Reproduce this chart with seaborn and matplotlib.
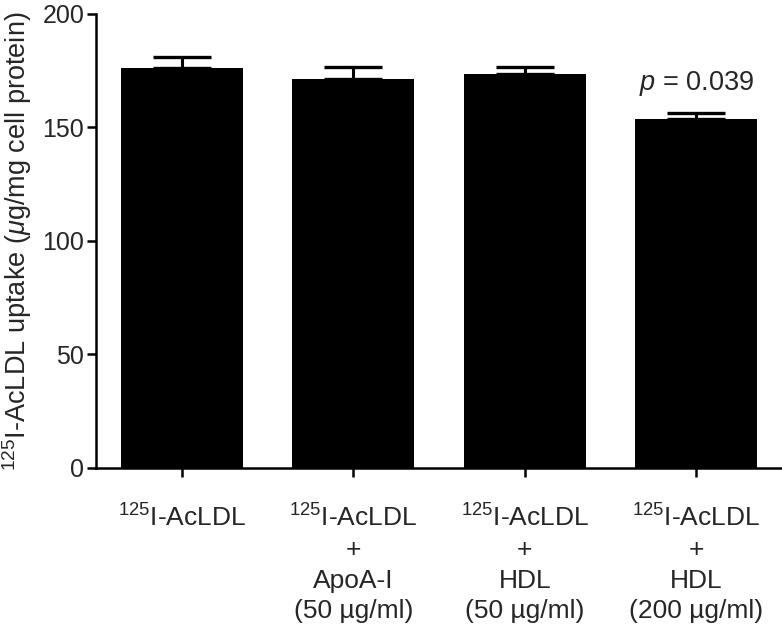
import pandas as pd
import matplotlib
matplotlib.use('Agg')
import matplotlib.pyplot as plt
import seaborn as sns

# 데이터
groups = ['$^{125}$I-AcLDL',
          '$^{125}$I-AcLDL\n+\nApoA-I\n(50 µg/ml)',
          '$^{125}$I-AcLDL\n+\nHDL\n(50 µg/ml)',
          '$^{125}$I-AcLDL\n+\nHDL\n(200 µg/ml)']
uptake = [176.3, 171.4, 173.6, 153.9]
sem = [4.7, 5.3, 3.1, 2.6]
p_label = '$p$ = 0.039'

df = pd.DataFrame({'group': groups, 'uptake': uptake, 'sem': sem})

sns.set_style('ticks')
plt.rcParams['font.family'] = ['Liberation Sans', 'DejaVu Sans']
plt.rcParams['mathtext.fontset'] = 'custom'
plt.rcParams['mathtext.rm'] = 'Liberation Sans'
plt.rcParams['mathtext.it'] = 'Liberation Sans:italic'

fig = plt.figure(figsize=(7.82, 6.27), dpi=100)
ax = fig.add_axes([0.1228, 0.2536, 0.8772, 0.7241])

sns.barplot(data=df, x='group', y='uptake', color='black', width=0.71,
            saturation=1, errorbar=None, linewidth=0, ax=ax, zorder=3)
ax.errorbar(range(len(groups)), df['uptake'], yerr=[[0] * len(sem), df['sem']],
            fmt='none', ecolor='black', elinewidth=2.2, capsize=21, capthick=2.4,
            zorder=2)

# p 값 표시
ax.text(3, df['uptake'][3] + df['sem'][3] + 6.5, p_label, ha='center', va='bottom',
        fontsize=19.5)

ax.set_xlim(-0.5, 3.5)
ax.set_ylim(0, 200)
ax.set_yticks([0, 50, 100, 150, 200])
ax.set_xlabel('')
ax.set_ylabel('$^{125}$I-AcLDL uptake ($\\mu$g/mg cell protein)', fontsize=19.5, labelpad=6)
ax.tick_params(axis='both', width=1.8, length=6.5, color='black')
ax.tick_params(axis='y', labelsize=18, pad=2)
ax.tick_params(axis='x', labelsize=19, pad=20)
for s in ['top', 'right']:
    ax.spines[s].set_visible(False)
for s in ['left', 'bottom']:
    ax.spines[s].set_linewidth(1.8)
    ax.spines[s].set_color('black')
for lbl in ax.get_xticklabels():
    lbl.set_horizontalalignment('center')
    lbl.set_multialignment('center')
    lbl.set_linespacing(1.33)

fig.savefig('out.png', dpi=100)
